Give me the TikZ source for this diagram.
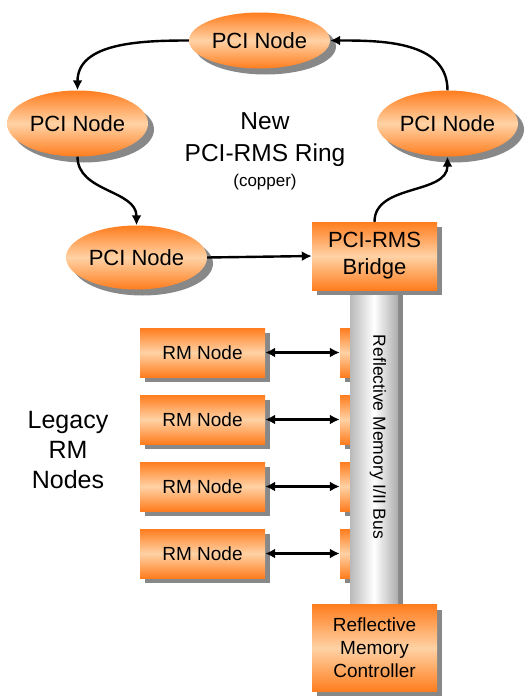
\documentclass[tikz,border=0pt]{standalone}
\usepackage{fontspec}
\setmainfont{Liberation Sans}
\usetikzlibrary{shapes.geometric,shadows,arrows.meta}

\definecolor{rmorange}{RGB}{255,125,30}
\definecolor{rmpeach}{RGB}{255,210,165}
\definecolor{rmshadow}{RGB}{136,136,136}

\tikzset{
  rmshade/.style={top color=rmorange, bottom color=rmorange, middle color=rmpeach},
  pcinode/.style={ellipse, rmshade, minimum width=141pt, minimum height=62pt, inner sep=0pt,
    drop shadow={shadow xshift=6pt, shadow yshift=-6pt, fill=rmshadow, opacity=1},
    font=\fontsize{22}{26}\selectfont},
  rmbox/.style={rectangle, rmshade, inner sep=0pt, align=center,
    drop shadow={shadow xshift=5pt, shadow yshift=-5pt, fill=rmshadow, opacity=1}},
  busbar/.style={rectangle, inner sep=0pt, left color=gray!55, right color=gray!65, middle color=white,
    drop shadow={shadow xshift=5pt, shadow yshift=0pt, fill=rmshadow, opacity=1}},
  ringarrow/.style={line width=2.4pt, -{Latex[length=10pt, width=10pt]}},
  busarrow/.style={line width=2.4pt, {Latex[length=10pt, width=10pt]}-{Latex[length=10pt, width=10pt]}}
}

\begin{document}
\begin{tikzpicture}[x=1pt, y=1pt]
  \useasboundingbox (0,0) rectangle (525,-696);
  \def\rowgap{67}
  %
  % ring of PCI nodes
  \node[pcinode, minimum height=56pt] (top) at (259.5,-40.5) {PCI Node};
  \node[pcinode, minimum height=66pt] (lft) at (77.5,-123.5) {PCI Node};
  \node[pcinode, minimum height=66pt] (rgt) at (447.5,-123.5) {PCI Node};
  \node[pcinode, minimum height=64pt] (low) at (136.5,-257.5) {PCI Node};
  %
  \node[align=center, font=\fontsize{24.5}{32}\selectfont] (ring) at (265,-140) {New\\PCI-RMS Ring};
  \node[font=\fontsize{17}{20}\selectfont] (copper) at (265,-182) {(copper)};
  %
  % legacy RM nodes and their taps
  \foreach \i in {1,...,4}{
    \node[rmbox, minimum width=125pt, minimum height=49pt, font=\fontsize{19}{22}\selectfont]
      (rm\i) at (202.5,{-352.5-\rowgap*(\i-1)}) {RM Node};
    \node[rmbox, minimum width=25pt, minimum height=49pt] (tap\i) at (352.5,{-352.5-\rowgap*(\i-1)}) {};
  }
  \node[align=center, font=\fontsize{25}{30}\selectfont] (legacy) at (68,-450) {Legacy\\RM\\Nodes};
  %
  % bus
  \node[busbar, minimum width=48pt, minimum height=318pt] (bus) at (374,-447) {};
  \node[rotate=-90, font=\fontsize{17.5}{20}\selectfont] (bustext) at (378,-437) {Reflective Memory I/II Bus};
  %
  % bridge and controller
  \node[rmbox, minimum width=125pt, minimum height=68pt, font=\fontsize{22}{27}\selectfont]
    (bridge) at (374.5,-256) {PCI-RMS\\Bridge};
  \node[rmbox, minimum width=125pt, minimum height=87pt, font=\fontsize{19}{23}\selectfont]
    (ctrl) at (374.5,-648) {Reflective\\Memory\\Controller};
  %
  % connectors
  \draw[ringarrow] (top.west) to[out=180, in=90] (lft.north);
  \draw[ringarrow] (lft.south) to[out=-90, in=90] (low.north);
  \draw[ringarrow] (low.east) -- (bridge.west);
  \draw[ringarrow] (bridge.north) to[out=90, in=-90] (rgt.south);
  \draw[ringarrow] (rgt.north) to[out=90, in=0] (top.east);
  \foreach \i in {1,...,4}
    \draw[busarrow] (rm\i.east) -- (tap\i.west);
\end{tikzpicture}
\end{document}
